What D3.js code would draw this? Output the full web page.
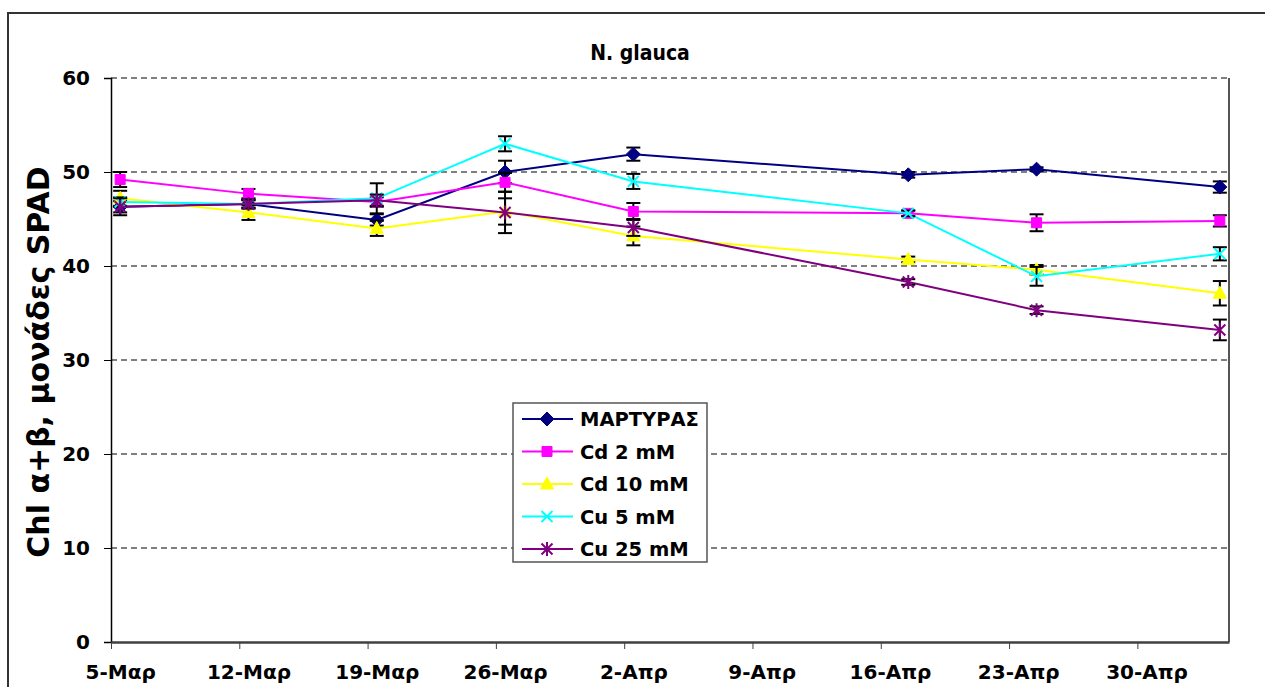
<!DOCTYPE html>
<html lang="el">
<head>
<meta charset="UTF-8" />
<title>N. glauca</title>
<script src="https://d3js.org/d3.v7.min.js"></script>
<style>
  body { margin: 0; background: #fff; }
  text { font-family: "DejaVu Sans", sans-serif; font-weight: bold; fill: #000; }
</style>
</head>
<body>
<div id="chart"></div>
<script>
// sampling dates (day / month, year is irrelevant)
var dates = ["2007-03-05", "2007-03-12", "2007-03-19", "2007-03-26", "2007-04-02", "2007-04-17", "2007-04-24", "2007-05-04"];
var tickDates = ["2007-03-05", "2007-03-12", "2007-03-19", "2007-03-26", "2007-04-02", "2007-04-09", "2007-04-16", "2007-04-23", "2007-04-30"];
var monthNames = {2: "Μαρ", 3: "Απρ", 4: "Μαϊ"};
var yTicks = [0, 10, 20, 30, 40, 50, 60];

var seriesNames = ["ΜΑΡΤΥΡΑΣ", "Cd 2 mM", "Cd 10 mM", "Cu 5 mM", "Cu 25 mM"];

// chlorophyll a+b (SPAD units)
var martyras = [46.3, 46.6, 44.9, 50.0, 51.9, 49.7, 50.3, 48.4];
var cd2      = [49.2, 47.7, 46.8, 48.9, 45.8, 45.6, 44.6, 44.8];
var cd10     = [47.2, 45.7, 44.0, 45.8, 43.2, 40.7, 39.6, 37.1];
var cu5      = [46.8, 46.6, 47.2, 53.0, 49.0, 45.6, 38.9, 41.3];
var cu25     = [46.3, 46.6, 47.0, 45.7, 44.1, 38.3, 35.3, 33.2];

// standard errors
var martyrasErr = [0.6, 0.4, 0.6, 1.2, 0.7, 0.3, 0.2, 0.6];
var cd2Err      = [0.8, 0.5, 0.5, 1.0, 0.9, 0.3, 0.9, 0.6];
var cd10Err     = [0.8, 0.8, 0.8, 1.4, 1.0, 0.3, 0.5, 1.3];
var cu5Err      = [0.5, 0.4, 1.6, 0.8, 0.8, 0.3, 1.0, 0.7];
var cu25Err     = [0.9, 0.5, 0.6, 2.2, 0.9, 0.3, 0.4, 1.1];

var colors  = ["#000080", "#ff00ff", "#ffff00", "#00ffff", "#800080"];
var markers = ["diamond", "square", "triangle", "cross", "star"];

var values = [martyras, cd2, cd10, cu5, cu25];
var errors = [martyrasErr, cd2Err, cd10Err, cu5Err, cu25Err];

var W = 1265, H = 687;
var margin = {top: 78, right: 36, bottom: 45, left: 111};

var svg = d3.select("#chart").append("svg")
    .attr("width", W).attr("height", H);

// outer chart border
svg.append("rect")
    .attr("x", 8).attr("y", 13).attr("width", W + 20).attr("height", H + 20)
    .attr("fill", "#fff").attr("stroke", "#333").attr("stroke-width", 2);

var parse = d3.utcParse("%Y-%m-%d");
var DAY = 864e5;

var x = d3.scaleUtc()
    .domain([parse("2007-03-05"), parse("2007-05-05")])
    .range([margin.left, W - margin.right]);
var y = d3.scaleLinear()
    .domain([0, 60])
    .range([H - margin.bottom, margin.top]);

var halfDay = x(new Date(parse("2007-03-05").getTime() + DAY / 2)) - x(parse("2007-03-05"));
function xc(s) { return x(new Date(parse(s).getTime() + DAY / 2)); }

// gridlines
svg.append("g")
  .selectAll("line")
  .data(yTicks.filter(function(d) { return d > 0; }))
  .enter().append("line")
    .attr("x1", margin.left).attr("x2", W - margin.right)
    .attr("y1", function(d) { return y(d); })
    .attr("y2", function(d) { return y(d); })
    .attr("stroke", "#000").attr("stroke-width", 1)
    .attr("stroke-dasharray", "6,4");

// plot area right border
svg.append("line")
    .attr("x1", W - margin.right).attr("x2", W - margin.right)
    .attr("y1", margin.top).attr("y2", H - margin.bottom)
    .attr("stroke", "#555").attr("stroke-width", 2);

// Y axis
var yAxis = svg.append("g")
    .attr("transform", "translate(" + margin.left + ",0)")
    .call(d3.axisLeft(y).tickValues(yTicks).tickSize(7).tickPadding(14));
yAxis.select(".domain").attr("stroke", "#000").attr("stroke-width", 1.5);
yAxis.selectAll(".tick line").attr("stroke", "#000");
yAxis.selectAll("text")
    .style("font-size", "20px")
    .style("font-family", "'DejaVu Sans', sans-serif")
    .attr("fill", "#000");

// X axis
var xAxis = svg.append("g")
    .attr("transform", "translate(0," + y(0) + ")")
    .call(d3.axisBottom(x)
      .tickValues(tickDates.map(parse))
      .tickSize(7)
      .tickSizeOuter(0)
      .tickFormat(function(d) { return d.getUTCDate() + "-" + monthNames[d.getUTCMonth()]; }));
xAxis.select(".domain").attr("stroke", "#404040").attr("stroke-width", 2.5);
xAxis.selectAll(".tick line").attr("stroke", "#404040");
xAxis.selectAll("text")
    .attr("x", halfDay)
    .attr("y", 23)
    .style("font-size", "20px")
    .style("font-family", "'DejaVu Sans', sans-serif")
    .attr("fill", "#000");

// marker shapes
function markerPath(type) {
  switch (type) {
    case "diamond":  return "M0,-7L7,0L0,7L-7,0Z";
    case "square":   return "M-5,-5H5V5H-5Z";
    case "triangle": return "M0,-7L6.5,5L-6.5,5Z";
    case "cross":    return "M-5.5,-5.5L5.5,5.5M-5.5,5.5L5.5,-5.5";
    case "star":     return "M-5.5,-5.5L5.5,5.5M-5.5,5.5L5.5,-5.5M0,-7V7";
  }
}
function drawMarker(g, type, color) {
  var filled = type !== "cross" && type !== "star";
  g.append("path")
    .attr("d", markerPath(type))
    .attr("fill", filled ? color : "none")
    .attr("stroke", color)
    .attr("stroke-width", filled ? 1 : 2);
}

var line = d3.line()
    .x(function(d) { return xc(d.date); })
    .y(function(d) { return y(d.v); });

values.forEach(function(vals, i) {
  var data = dates.map(function(d, j) { return {date: d, v: vals[j], e: errors[i][j]}; });
  var g = svg.append("g");

  g.append("path")
    .datum(data)
    .attr("fill", "none")
    .attr("stroke", colors[i])
    .attr("stroke-width", 2)
    .attr("d", line);

  // error bars
  var eb = g.selectAll(".eb").data(data).enter().append("g")
    .attr("stroke", "#000").attr("stroke-width", 2);
  eb.append("line")
    .attr("x1", function(d) { return xc(d.date); })
    .attr("x2", function(d) { return xc(d.date); })
    .attr("y1", function(d) { return y(d.v + d.e); })
    .attr("y2", function(d) { return y(d.v - d.e); });
  eb.append("line")
    .attr("x1", function(d) { return xc(d.date) - 7; })
    .attr("x2", function(d) { return xc(d.date) + 7; })
    .attr("y1", function(d) { return y(d.v + d.e); })
    .attr("y2", function(d) { return y(d.v + d.e); });
  eb.append("line")
    .attr("x1", function(d) { return xc(d.date) - 7; })
    .attr("x2", function(d) { return xc(d.date) + 7; })
    .attr("y1", function(d) { return y(d.v - d.e); })
    .attr("y2", function(d) { return y(d.v - d.e); });

  g.selectAll(".mk").data(data).enter().append("g")
    .attr("transform", function(d) { return "translate(" + xc(d.date) + "," + y(d.v) + ")"; })
    .each(function() { drawMarker(d3.select(this), markers[i], colors[i]); });
});

// title
svg.append("text")
    .attr("x", 640).attr("y", 60)
    .attr("text-anchor", "middle")
    .style("font-size", "21px")
    .style("font-family", "'DejaVu Sans Condensed', sans-serif")
    .text("N. glauca");

// y axis title
svg.append("text")
    .attr("transform", "translate(49," + ((margin.top + y(0)) / 2 + 2) + ") rotate(-90)")
    .attr("text-anchor", "middle")
    .style("font-size", "30px")
    .text("Chl α+β, μονάδες SPAD");

// legend
var lg = svg.append("g").attr("transform", "translate(513,403)");
lg.append("rect")
    .attr("width", 194).attr("height", 159)
    .attr("fill", "#fff").attr("stroke", "#555").attr("stroke-width", 1.5);
seriesNames.forEach(function(name, i) {
  var row = lg.append("g").attr("transform", "translate(0," + (16 + i * 32.5) + ")");
  row.append("line")
    .attr("x1", 9).attr("x2", 60)
    .attr("stroke", colors[i]).attr("stroke-width", 2);
  drawMarker(row.append("g").attr("transform", "translate(34,0)"), markers[i], colors[i]);
  row.append("text")
    .attr("x", 67).attr("y", 7)
    .style("font-size", "19.5px")
    .text(name);
});
</script>
</body>
</html>
